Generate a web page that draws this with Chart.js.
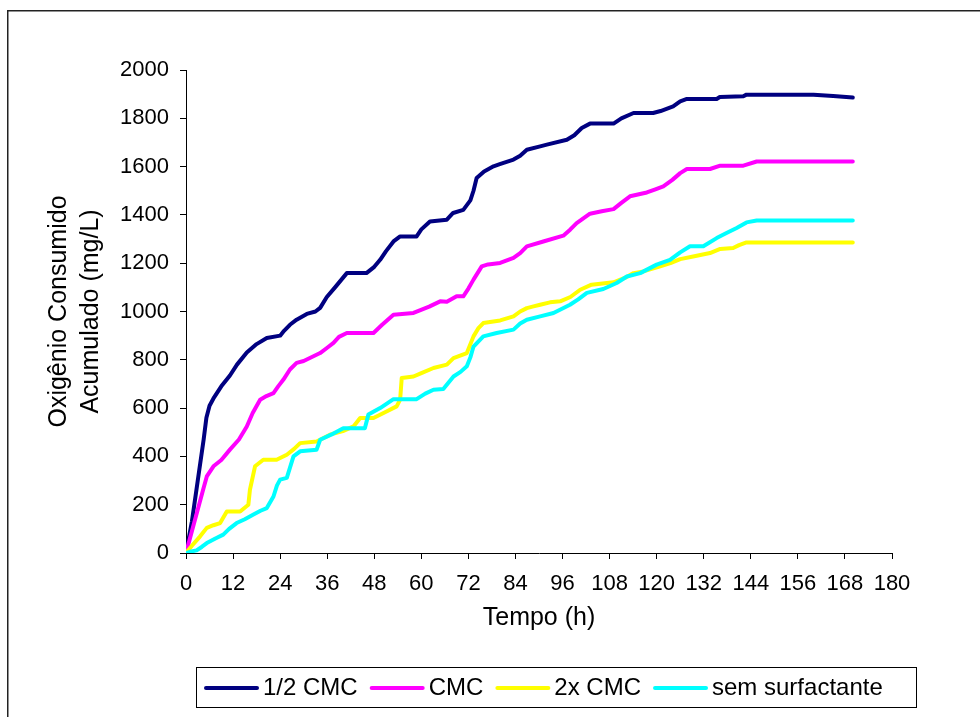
<!DOCTYPE html>
<html>
<head>
<meta charset="utf-8">
<script src="https://cdn.jsdelivr.net/npm/chart.js@4/dist/chart.umd.min.js"></script>
<style>
  html, body { margin: 0; padding: 0; background: #fff; }
  #c { display: block; }
</style>
</head>
<body>
<canvas id="c" width="980" height="717"></canvas>
<script>
// ---- Data ----
const seriesLabels = ['1/2 CMC', 'CMC', '2x CMC', 'sem surfactante'];
const seriesColors = ['#000080', '#FF00FF', '#FFFF00', '#00FFFF'];

const tHalfCMC = [0,1.5,3,4.5,5.2,6,7,9,11.2,13,15.5,18,20.6,24,25,26.5,28.2,30.8,33,34.2,35.9,38,41,46,48,49.5,51,52.9,54.6,58.8,60,62.2,66.5,68.1,70.7,72.5,73.3,74.1,76,78.4,80,83.5,85.2,86.9,90.3,92,97.1,99,100.9,103,109,111,114.1,119.1,121,124.2,126,127.7,135.3,136.1,142.1,142.9,160,165,170];
const vHalfCMC = [0,130,300,470,560,610,640,690,735,780,830,865,890,900,920,945,966,990,1000,1015,1060,1100,1159,1159,1185,1214,1250,1290,1311,1311,1340,1373,1380,1408,1421,1460,1500,1553,1580,1601,1610,1629,1645,1670,1684,1691,1711,1730,1760,1778,1778,1800,1822,1822,1830,1849,1870,1880,1880,1888,1891,1898,1898,1892,1886];

const tCMC = [0,1.5,3,4.5,5.3,7,9,11.2,13.5,15.5,17,18.9,20.5,22.3,23.5,24.8,26.5,28.2,30,34.2,36,37.6,39,41,47.8,50,52.9,58,62,64.8,66.5,69,70.7,72,73.3,75.4,77,80.1,83.5,85.2,86.9,91.1,96.2,98,99.6,103,106,109,111,113.2,117.5,119.5,121.7,124,126,127.7,133.6,136.2,142.1,145.5,170];
const vCMC = [0,90,180,270,317,359,385,428,470,524,580,635,650,662,690,717,760,787,795,828,850,870,895,911,911,945,987,994,1020,1042,1040,1063,1063,1095,1132,1187,1195,1201,1222,1242,1270,1290,1314,1340,1366,1405,1415,1424,1450,1477,1493,1505,1518,1545,1573,1590,1590,1604,1604,1621,1621];

const t2xCMC = [0,1.5,3.6,5.3,7,8.7,10.4,13.8,15.9,16.3,17.6,19.7,23.1,25.7,27.5,29.1,33.3,36.7,40,42.7,44.4,47.8,51,53.7,54.6,55,58,60,63.1,66.5,68.2,71.6,73.3,74.5,75.8,80.1,83.5,85.2,86.9,88.6,90.3,92.8,95.4,98,100.5,103.4,109,112,114.1,116.6,120.9,123.5,126,129.3,133.6,136.2,139.5,141,142.9,170];
const v2xCMC = [0,30,69,104,115,124,172,172,200,262,359,386,386,407,430,455,462,490,505,524,559,559,585,607,635,725,731,745,766,780,807,828,897,930,952,963,980,1000,1014,1021,1028,1038,1042,1060,1090,1111,1121,1140,1159,1166,1187,1200,1217,1228,1242,1259,1263,1275,1286,1286];

const tSem = [0,1,2.7,4,5.3,7.5,9.5,11,12.9,15,17.2,19,20.6,22.3,23.2,24,25.7,27.4,29.1,33.3,34.2,37,40.1,45.6,46.5,49.5,52.9,58.8,61,63.1,65.6,68.2,70,71.6,72.5,73.3,75.8,79.2,83.5,85.2,86.9,90.3,93.7,97.9,100,102.2,106.4,109.8,112.4,115.8,120,123.4,126,128.5,131.9,135.3,137.8,140.4,142.9,145.5,170];
const vSem = [0,5,11,25,41,60,76,100,124,140,159,175,186,234,280,304,311,400,421,428,469,490,517,517,573,600,637,637,660,676,679,731,750,773,810,855,897,911,925,950,966,980,994,1028,1050,1077,1093,1118,1145,1159,1194,1214,1245,1270,1270,1304,1325,1346,1369,1377,1377];

const xTickStep = 12, xMax = 180;
const yTickStep = 200, yMax = 2000;

// ---- Build datasets ----
function pts(t, v) { return t.map((x, i) => ({ x: x, y: v[i] })); }
const seriesData = [pts(tHalfCMC, vHalfCMC), pts(tCMC, vCMC), pts(t2xCMC, v2xCMC), pts(tSem, vSem)];
const drawOrder = [4, 3, 2, 1];

const datasets = seriesLabels.map((lab, i) => ({
  label: lab,
  data: seriesData[i],
  borderColor: seriesColors[i],
  backgroundColor: seriesColors[i],
  borderWidth: 4,
  pointRadius: 0,
  tension: 0,
  fill: false,
  borderCapStyle: 'round',
  borderJoinStyle: 'round',
  order: drawOrder[i]
}));

const FONT = '"Liberation Sans", Arial, Helvetica, sans-serif';

const framePlugin = {
  id: 'frame',
  beforeDraw(chart) {
    const c = chart.ctx;
    c.save();
    c.fillStyle = '#fff';
    c.fillRect(0, 0, chart.width, chart.height);
    c.strokeStyle = '#222';
    c.lineWidth = 1.5;
    c.beginPath();
    c.moveTo(7.75, 717);
    c.lineTo(7.75, 10.75);
    c.lineTo(980, 10.75);
    c.stroke();
    c.restore();
  }
};

const boxLegend = {
  id: 'boxLegend',
  afterDraw(chart) {
    const c = chart.ctx;
    c.save();
    c.strokeStyle = '#000';
    c.lineWidth = 1;
    c.strokeRect(196.5, 667.5, 720, 40);
    c.font = '24px ' + FONT;
    c.textBaseline = 'middle';
    c.textAlign = 'left';
    let x = 206;
    const y = 688;
    chart.data.datasets.forEach(ds => {
      c.strokeStyle = ds.borderColor;
      c.lineWidth = 4;
      c.lineCap = 'round';
      c.beginPath();
      c.moveTo(x, y);
      c.lineTo(x + 51, y);
      c.stroke();
      x += 57;
      c.fillStyle = '#000';
      c.fillText(ds.label, x, y);
      x += c.measureText(ds.label).width + 14;
    });
    c.restore();
  }
};

new Chart(document.getElementById('c'), {
  type: 'line',
  data: { datasets: datasets },
  plugins: [framePlugin, boxLegend],
  options: {
    responsive: false,
    animation: false,
    devicePixelRatio: 1,
    layout: { padding: { top: 70, left: 30, right: 88, bottom: 64 } },
    plugins: { legend: { display: false }, tooltip: { enabled: false } },
    scales: {
      x: {
        type: 'linear',
        min: 0, max: xMax,
        ticks: { stepSize: xTickStep, color: '#000', font: { family: FONT, size: 22 }, padding: 12, maxRotation: 0, autoSkip: false, callback: v => String(v) },
        grid: { drawOnChartArea: false, drawTicks: true, tickLength: 6, color: '#000', lineWidth: 1 },
        border: { display: true, color: '#000', width: 1 },
        title: { display: true, text: 'Tempo (h)', color: '#000', font: { family: FONT, size: 25, lineHeight: 1.2 }, padding: { top: 4, bottom: 20 } },
        afterFit(s) { s.height = 100; }
      },
      y: {
        type: 'linear',
        min: 0, max: yMax,
        ticks: { stepSize: yTickStep, color: '#000', font: { family: FONT, size: 22 }, padding: 11, callback: v => String(v) },
        grid: { drawOnChartArea: false, drawTicks: true, tickLength: 6, color: '#000', lineWidth: 1 },
        border: { display: true, color: '#000', width: 1 },
        title: { display: true, text: ['Oxigênio Consumido', 'Acumulado (mg/L)'], color: '#000', font: { family: FONT, size: 25, lineHeight: 1.3 }, padding: { top: 12.5, bottom: 4 } },
        afterFit(s) { s.width = 156; }
      }
    }
  }
});
</script>
</body>
</html>
